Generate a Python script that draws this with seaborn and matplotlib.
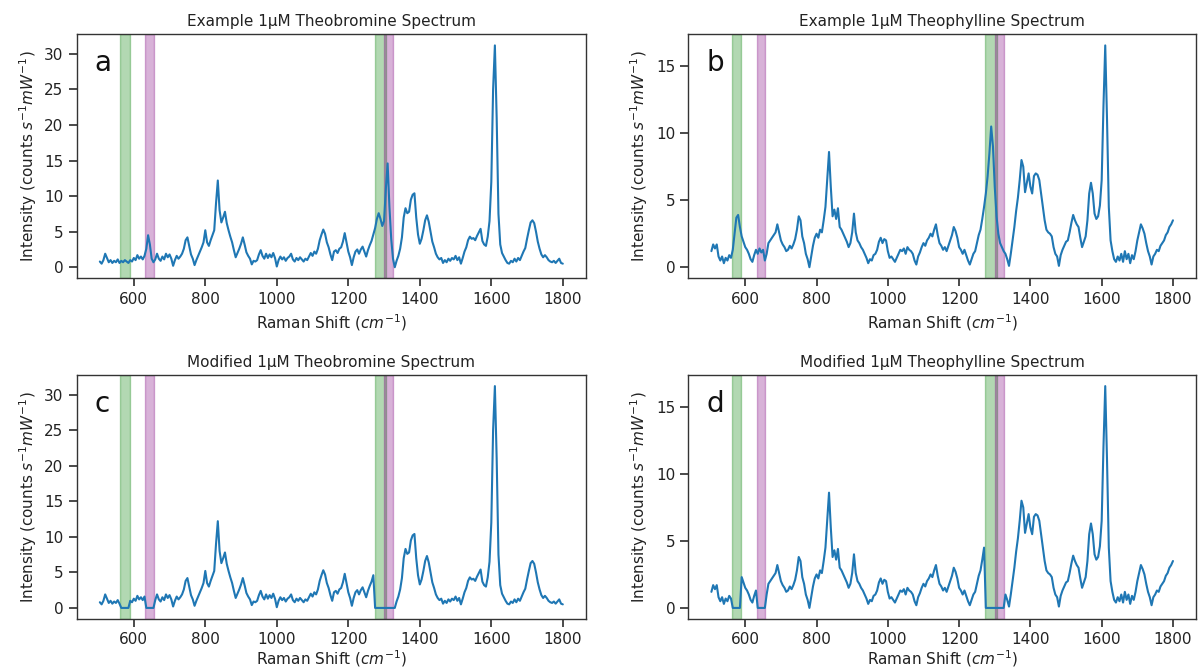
import numpy as np
import pandas as pd
import matplotlib
matplotlib.use("Agg")
import matplotlib.pyplot as plt
import seaborn as sns

# Raman shift axis (cm^-1), sampled every 5 cm^-1
raman_shift = np.arange(505, 1805, 5)

# 1 µM theobromine, intensity in counts s^-1 mW^-1 (10 points per 50 cm^-1 row)
theobromine = [
    0.8, 0.5, 1.0, 1.9, 1.3, 0.7, 1.0, 0.6, 0.9, 0.7,      # 505-550
    1.1, 0.6, 0.9, 0.7, 1.0, 0.8, 0.6, 1.0, 0.8, 1.3,      # 555-600
    1.0, 1.7, 1.2, 1.5, 1.1, 1.6, 2.6, 4.5, 3.2, 1.2,      # 605-650
    0.7, 1.1, 1.9, 1.2, 0.9, 1.5, 1.1, 1.9, 1.4, 1.8,      # 655-700
    1.2, 0.2, 1.0, 1.6, 1.2, 1.5, 1.9, 2.6, 3.8, 4.2,      # 705-750
    3.0, 1.8, 1.2, 0.3, 1.0, 1.6, 2.2, 2.8, 3.5, 5.2,      # 755-800
    3.5, 3.0, 3.8, 4.5, 5.2, 9.0, 12.2, 8.0, 6.3, 7.0,     # 805-850
    7.8, 6.2, 5.2, 4.3, 3.5, 2.4, 1.4, 2.0, 2.6, 3.3,      # 855-900
    4.2, 3.2, 2.1, 1.6, 1.2, 0.4, 0.9, 0.8, 1.0, 1.8,      # 905-950
    2.4, 1.6, 1.2, 1.9, 1.3, 1.8, 1.4, 2.0, 1.3, 0.1,      # 955-1000
    1.0, 1.5, 1.1, 1.4, 0.9, 1.3, 1.5, 1.9, 1.1, 0.8,      # 1005-1050
    1.3, 1.0, 1.4, 1.1, 0.8, 1.2, 1.0, 1.5, 2.0, 1.6,      # 1055-1100
    2.2, 1.9, 2.6, 3.8, 4.6, 5.3, 4.7, 3.5, 2.8, 1.8,      # 1105-1150
    1.0, 2.2, 2.4, 2.0, 2.6, 2.8, 3.6, 4.8, 3.5, 2.2,      # 1155-1200
    1.4, 0.3, 1.4, 2.2, 2.5, 1.9, 2.5, 2.9, 2.2, 1.5,      # 1205-1250
    2.4, 3.1, 3.7, 4.6, 5.5, 6.8, 7.6, 6.8, 5.8, 6.5,      # 1255-1300
    11.0, 14.6, 8.5, 4.0, 1.2, 0.0, 0.9, 1.6, 2.6, 4.2,    # 1305-1350
    7.0, 8.3, 7.6, 7.8, 9.5, 10.2, 10.4, 7.0, 4.6, 3.3,    # 1355-1400
    4.0, 5.2, 6.6, 7.3, 6.4, 5.0, 3.6, 2.8, 1.9, 1.4,      # 1405-1450
    1.1, 1.3, 0.6, 1.0, 0.7, 1.2, 0.9, 1.3, 1.1, 1.6,      # 1455-1500
    1.0, 1.4, 0.5, 1.3, 2.2, 2.8, 3.8, 4.3, 4.0, 4.1,      # 1505-1550
    3.8, 4.4, 4.9, 5.4, 3.7, 3.2, 3.0, 4.3, 6.5, 12.0,     # 1555-1600
    25.0, 31.2, 21.0, 7.5, 3.2, 2.0, 1.5, 1.0, 0.6, 0.5,   # 1605-1650
    0.9, 0.7, 1.2, 0.8, 1.3, 1.0, 1.6, 2.2, 2.7, 4.0,      # 1655-1700
    5.2, 6.3, 6.6, 6.2, 5.0, 3.6, 2.6, 1.8, 1.4, 1.7,      # 1705-1750
    1.4, 1.0, 0.8, 0.7, 0.9, 0.6, 0.9, 1.2, 0.6, 0.5,      # 1755-1800
]

# 1 µM theophylline, same axis and units
theophylline = [
    1.2, 1.7, 1.4, 1.7, 0.8, 0.5, 0.8, 0.3, 0.7, 0.5,      # 505-550
    0.9, 0.7, 1.3, 2.5, 3.7, 3.9, 3.0, 2.3, 1.9, 1.5,      # 555-600
    1.3, 1.0, 0.6, 0.4, 0.9, 1.3, 1.0, 1.4, 1.1, 1.3,      # 605-650
    0.5, 1.0, 1.8, 2.0, 2.2, 2.4, 2.6, 3.2, 2.6, 2.0,      # 655-700
    1.7, 1.5, 1.2, 1.3, 1.6, 1.4, 1.7, 2.1, 2.8, 3.8,      # 705-750
    3.5, 2.3, 1.8, 1.0, 0.6, 0.0, 0.8, 1.6, 2.2, 2.5,      # 755-800
    2.2, 2.8, 2.6, 3.5, 4.5, 6.5, 8.6, 6.0, 3.8, 4.3,      # 805-850
    3.6, 4.4, 3.0, 2.8, 2.5, 2.2, 1.9, 1.5, 1.8, 2.6,      # 855-900
    4.0, 2.6, 2.0, 1.8, 1.5, 1.3, 1.0, 0.7, 0.3, 0.6,      # 905-950
    0.5, 0.9, 1.0, 1.3, 1.9, 2.2, 1.8, 2.1, 2.0, 1.2,      # 955-1000
    0.7, 0.8, 0.6, 0.4, 0.7, 1.0, 1.3, 1.2, 1.4, 1.0,      # 1005-1050
    1.5, 1.3, 1.2, 1.0, 0.5, 0.2, 0.8, 1.1, 1.5, 1.8,      # 1055-1100
    1.6, 2.0, 2.2, 2.5, 2.3, 2.8, 3.2, 2.4, 1.8, 1.6,      # 1105-1150
    1.3, 1.5, 1.2, 1.6, 2.0, 2.4, 3.0, 2.7, 2.2, 1.5,      # 1155-1200
    1.3, 1.0, 1.3, 0.9, 0.5, 0.2, 0.6, 1.0, 1.2, 1.8,      # 1205-1250
    2.4, 2.8, 3.6, 4.5, 5.5, 6.8, 8.5, 10.5, 9.0, 6.0,     # 1255-1300
    3.8, 2.5, 1.8, 1.5, 1.2, 1.0, 0.6, 0.1, 1.0, 2.0,      # 1305-1350
    3.0, 4.2, 5.2, 6.5, 8.0, 7.5, 5.6, 6.3, 7.0, 6.0,      # 1355-1400
    5.5, 6.8, 7.0, 6.9, 6.5, 5.5, 4.5, 3.5, 2.8, 2.6,      # 1405-1450
    2.5, 2.3, 1.5, 1.0, 0.8, 0.1, 0.9, 1.3, 1.6, 1.9,      # 1455-1500
    2.0, 2.6, 3.3, 3.9, 3.5, 3.2, 3.0, 2.2, 1.5, 1.9,      # 1505-1550
    2.3, 3.5, 5.5, 6.3, 5.5, 4.0, 3.6, 3.8, 4.6, 6.5,      # 1555-1600
    12.0, 16.55, 11.0, 4.5, 2.0, 1.2, 0.6, 0.4, 0.8, 0.5,  # 1605-1650
    1.0, 0.4, 1.2, 0.6, 1.0, 0.3, 0.9, 0.6, 1.2, 2.0,      # 1655-1700
    2.6, 3.2, 2.9, 2.5, 1.8, 1.2, 0.8, 0.2, 0.8, 1.0,      # 1705-1750
    1.3, 1.2, 1.6, 1.8, 2.0, 2.4, 2.6, 3.0, 3.2, 3.5,      # 1755-1800
]

# Excluded windows (cm^-1): green and purple shading
green_windows = [(562, 588), (1274, 1306)]
purple_windows = [(632, 656), (1300, 1325)]

panel_titles = [
    "Example 1μM Theobromine Spectrum",
    "Example 1μM Theophylline Spectrum",
    "Modified 1μM Theobromine Spectrum",
    "Modified 1μM Theophylline Spectrum",
]
panel_letters = ["a", "b", "c", "d"]


def masked(values):
    """Zero every point that falls inside a shaded window."""
    y = np.asarray(values, dtype=float).copy()
    for lo, hi in green_windows + purple_windows:
        y[(raman_shift >= lo) & (raman_shift <= hi)] = 0.0
    return y


spectra = [
    np.asarray(theobromine, dtype=float),
    np.asarray(theophylline, dtype=float),
    masked(theobromine),
    masked(theophylline),
]

sns.set_theme(style="ticks")
plt.rcParams["font.family"] = ["DejaVu Sans"]
plt.rcParams.update({
    "axes.edgecolor": "#333333",
    "axes.linewidth": 1.0,
    "xtick.color": "#333333",
    "ytick.color": "#333333",
    "xtick.labelcolor": "#222222",
    "ytick.labelcolor": "#222222",
    "xtick.labelsize": 11,
    "ytick.labelsize": 11,
    "axes.labelsize": 11,
    "axes.titlesize": 11,
    "axes.labelcolor": "#222222",
    "text.color": "#222222",
})

fig = plt.figure(figsize=(12, 6.7), dpi=100)
positions = [
    [0.0639, 0.5846, 0.4244, 0.3642],
    [0.5736, 0.5846, 0.4231, 0.3642],
    [0.0639, 0.0761, 0.4244, 0.3642],
    [0.5736, 0.0761, 0.4231, 0.3642],
]

for i, (pos, y, title, letter) in enumerate(
        zip(positions, spectra, panel_titles, panel_letters)):
    ax = fig.add_axes(pos)
    for lo, hi in green_windows:
        ax.axvspan(lo, hi, color="green", alpha=0.3, lw=1)
    for lo, hi in purple_windows:
        ax.axvspan(lo, hi, color="purple", alpha=0.3, lw=1)
    df = pd.DataFrame({"shift": raman_shift, "intensity": y})
    sns.lineplot(data=df, x="shift", y="intensity", ax=ax,
                 color="#1f77b4", linewidth=1.5, estimator=None, sort=True)
    ax.set_title(title)
    # bottom row labels sit a little closer so they stay inside the canvas
    ax.set_xlabel(r"Raman Shift ($cm^{-1}$)", labelpad=4 if i < 2 else 1)
    ax.set_ylabel(r"Intensity (counts $s^{-1}mW^{-1}$)")
    ax.set_xticks([600, 800, 1000, 1200, 1400, 1600, 1800])
    ax.text(0.035, 0.85, letter, transform=ax.transAxes, fontsize=20,
            color="#111111")

fig.savefig("out.png", dpi=100)
